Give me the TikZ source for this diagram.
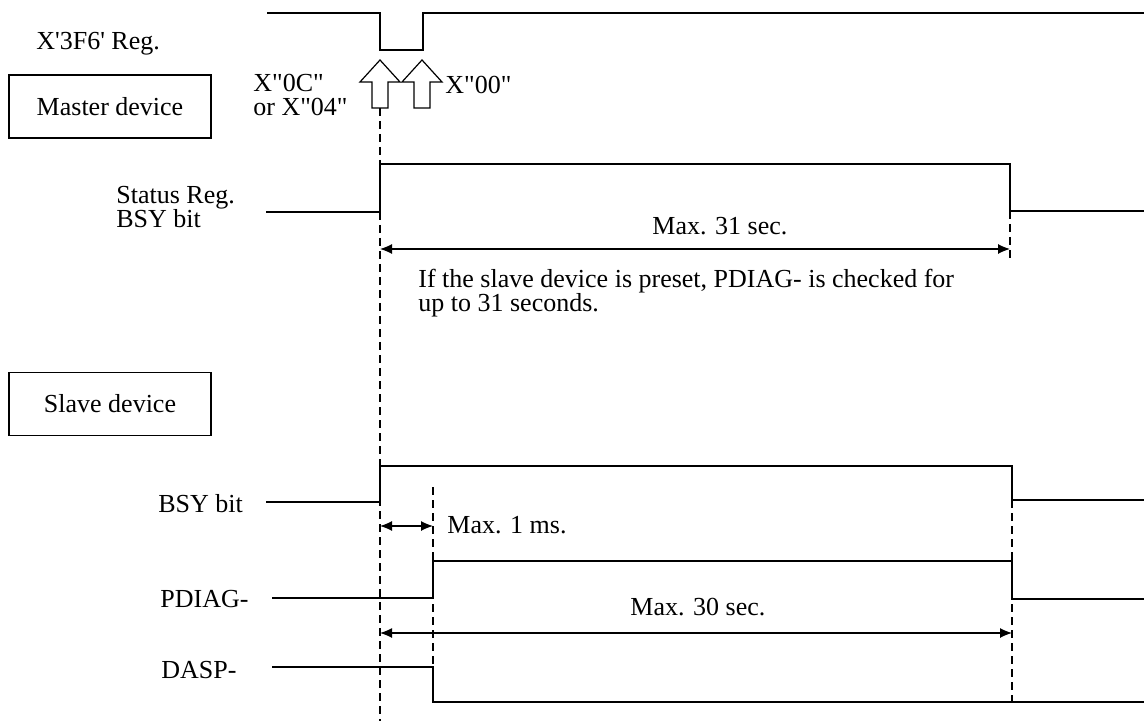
\documentclass[tikz,border=0pt]{standalone}
\usepackage{fontspec}
\setmainfont{Liberation Serif}[Ligatures=TeXOff]
\usepackage{tikz}
\usetikzlibrary{arrows.meta,positioning}
\tikzset{
  sigline/.style={
    line width=1pt,
    line join=miter
  },
  dimarrow/.style={
    {Latex[length=6pt,width=5pt]}-{Latex[length=6pt,width=5pt]},
    line width=0.6pt
  },
  guideline/.style={
    dash pattern=on 4pt off 2.5pt,
    line width=0.6pt
  },
  devbox/.style={
    rectangle,
    draw,
    line width=0.6pt,
    minimum width=101pt,
    minimum height=31.5pt,
    inner sep=0pt
  },
  sigtag/.style={
    anchor=base west,
    inner sep=0pt,
    align=left
  },
  pushmark/.pic={
    \draw[line width=0.6pt] (-8,48) -- (-8,22) -- (-20,22) -- (0,0)
      -- (20,22) -- (8,22) -- (8,48) -- cycle;
  }
}

\begin{document}
\begin{tikzpicture}[x=0.5pt, y=-0.5pt, font=\fontsize{13}{12}\selectfont]
\useasboundingbox (0,0) rectangle (1144,721);

% master side (two-line tags sit on their last line)
\node[sigtag] (regtag) at (36,50) {X'3F6' Reg.};
\node[devbox] (master) at (110,106.5) {Master device};
\node[sigtag] (settag) at (253,116) {X"0C"\\or X"04"};
\node[sigtag] (cleartag) at (445,94) {X"00"};
\node[sigtag] (stattag) at (116,228) {Status Reg.\\BSY bit};
\node[sigtag] (max31) at (652,235) {Max. 31 sec.};
\node[sigtag] (note) at (418,312) {If the slave device is preset, PDIAG- is checked for\\up to 31 seconds.};

% slave side
\node[devbox] (slave) at (110,404) {Slave device};
\node[sigtag] (bsytag) at (158,512) {BSY bit};
\node[sigtag] (max1) at (447,533) {Max. 1 ms.};
\node[sigtag] (pdiagtag) at (160,607) {PDIAG-};
\node[sigtag] (max30) at (630,615) {Max. 30 sec.};
\node[sigtag] (dasptag) at (161,678) {DASP-};

% edges in time
\coordinate (reset) at (380,108);
\coordinate (resetend) at (380,721);
\coordinate (bsyup) at (433,487);
\coordinate (bsyupend) at (433,702);
\coordinate (mdone) at (1010,211);
\coordinate (mdoneend) at (1010,260);
\coordinate (sdone) at (1012,500);
\coordinate (sdoneend) at (1012,702);

\pic at (380,60) {pushmark};
\pic at (422,60) {pushmark};

\draw[sigline] (267,13) -- (380,13) -- (380,50) -- (423,50) -- (423,13) -- (1144,13);
\draw[sigline] (266,212) -- (380,212) -- (380,164) -- (1010,164) -- (1010,211) -- (1144,211);
\draw[sigline] (266,502) -- (380,502) -- (380,466) -- (1012,466) -- (1012,500) -- (1144,500);
\draw[sigline] (272,598) -- (433,598) -- (433,561) -- (1012,561) -- (1012,599) -- (1144,599);
\draw[sigline] (272,667) -- (433,667) -- (433,702) -- (1144,702);

\draw[guideline] (reset) -- (resetend);
\draw[guideline] (bsyup) -- (bsyupend);
\draw[guideline] (mdone) -- (mdoneend);
\draw[guideline] (sdone) -- (sdoneend);

\draw[dimarrow] (380,249) -- (1010,249);
\draw[dimarrow] (380,526) -- (433,526);
\draw[dimarrow] (380,633) -- (1012,633);
\end{tikzpicture}
\end{document}
